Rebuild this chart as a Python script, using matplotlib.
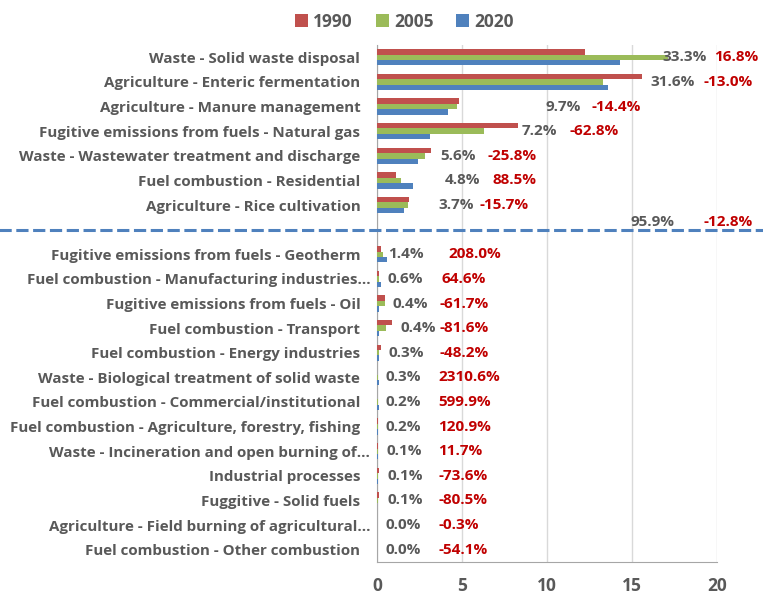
import numpy as np
import matplotlib.pyplot as plt
import matplotlib.transforms as mtransforms

# categorias (de cima para baixo); o espaço vazio entre os dois grupos fica na posição 7
categorias = [
    "Waste - Solid waste disposal",
    "Agriculture - Enteric fermentation",
    "Agriculture - Manure management",
    "Fugitive emissions from fuels - Natural gas",
    "Waste - Wastewater treatment and discharge",
    "Fuel combustion - Residential",
    "Agriculture - Rice cultivation",
    "Fugitive emissions from fuels - Geotherm",
    "Fuel combustion - Manufacturing industries...",
    "Fugitive emissions from fuels - Oil",
    "Fuel combustion - Transport",
    "Fuel combustion - Energy industries",
    "Waste - Biological treatment of solid waste",
    "Fuel combustion - Commercial/institutional",
    "Fuel combustion - Agriculture, forestry, fishing",
    "Waste - Incineration and open burning of...",
    "Industrial processes",
    "Fuggitive - Solid fuels",
    "Agriculture - Field burning of agricultural...",
    "Fuel combustion - Other combustion",
]
v1990 = [12.2, 15.6, 4.8, 8.3, 3.2, 1.1, 1.9,
         0.25, 0.15, 0.5, 0.9, 0.25, 0.01, 0.03, 0.04, 0.04, 0.15, 0.15, 0.02, 0.03]
v2005 = [17.1, 13.3, 4.7, 6.3, 2.8, 1.4, 1.8,
         0.35, 0.1, 0.45, 0.55, 0.15, 0.05, 0.06, 0.06, 0.05, 0.05, 0.05, 0.02, 0.02]
v2020 = [14.3, 13.6, 4.2, 3.1, 2.4, 2.1, 1.6,
         0.6, 0.25, 0.15, 0.15, 0.12, 0.15, 0.1, 0.08, 0.06, 0.04, 0.03, 0.02, 0.01]
share = ["33.3%", "31.6%", "9.7%", "7.2%", "5.6%", "4.8%", "3.7%",
         "1.4%", "0.6%", "0.4%", "0.4%", "0.3%", "0.3%", "0.2%", "0.2%",
         "0.1%", "0.1%", "0.1%", "0.0%", "0.0%"]
variacao = ["16.8%", "-13.0%", "-14.4%", "-62.8%", "-25.8%", "88.5%", "-15.7%",
            "208.0%", "64.6%", "-61.7%", "-81.6%", "-48.2%", "2310.6%", "599.9%", "120.9%",
            "11.7%", "-73.6%", "-80.5%", "-0.3%", "-54.1%"]
total_share = "95.9%"
total_var = "-12.8%"
anos = ["1990", "2005", "2020"]
cores = ["#C0504D", "#9BBB59", "#4F81BD"]

# onde os rótulos ficam (unidades do eixo x), como no gráfico original
x_share = [16.8, 16.1, 9.9, 8.5, 3.7, 4.0, 3.6,
           0.65, 0.6, 0.9, 1.4, 0.7, 0.5, 0.5, 0.5, 0.55, 0.6, 0.6, 0.5, 0.5]
x_var = [19.8, 19.2, 12.6, 11.3, 6.5, 6.8, 6.0,
         4.2, 3.8, 3.7, 3.7, 3.7, 3.6, 3.6, 3.6, 3.6, 3.6, 3.6, 3.6, 3.6]

n_top = 7
y = np.array([i if i < n_top else i + 1 for i in range(len(categorias))], dtype=float)

cinza = "#595959"
fonte = "Open Sans"

fig = plt.figure(figsize=(7.63, 5.97), dpi=100)
ax = fig.add_axes([0.494, 0.0586, 0.446, 0.866])

h = 0.22
for k, (vals, cor, ano) in enumerate(zip([v1990, v2005, v2020], cores, anos)):
    ax.barh(y + (k - 1) * h, vals, height=h, color=cor, label=ano, zorder=3)

for yi, s, v, xs, xv in zip(y, share, variacao, x_share, x_var):
    ax.text(xs, yi, s, color=cinza, fontsize=11, fontweight="bold", family=fonte,
            va="center", ha="left", clip_on=False)
    ax.text(xv, yi, v, color="#C00000", fontsize=11, fontweight="bold", family=fonte,
            va="center", ha="left", clip_on=False)

# linha tracejada separando os principais setores
ax.text(14.9, n_top - 0.3, total_share, color=cinza, fontsize=11, fontweight="bold",
        family=fonte, va="center", ha="left", clip_on=False)
ax.text(19.2, n_top - 0.3, total_var, color="#C00000", fontsize=11, fontweight="bold",
        family=fonte, va="center", ha="left", clip_on=False)
ax.plot([-30, 30], [n_top, n_top], color="#4F81BD", linestyle=(0, (4, 1.5)), lw=2.2,
        clip_on=False, zorder=4)
ax.set_xlim(0, 20)
ax.set_ylim(len(categorias) + 0.5, -0.5)

ax.set_yticks(y)
ax.set_yticklabels(categorias, color=cinza, fontsize=10.9, fontweight="bold", family=fonte)
ax.set_xticks([0, 5, 10, 15, 20])
ax.set_xticklabels(["0", "5", "10", "15", "20"], color=cinza, fontsize=12.5,
                   fontweight="bold", family=fonte)
ax.tick_params(axis="y", length=0, pad=12)
ax.tick_params(axis="x", length=0, pad=11)

# rótulos com reticências passam um pouco da margem, como no Excel
desloc = mtransforms.ScaledTranslation(10 / 100, 0, fig.dpi_scale_trans)
for lab in ax.get_yticklabels():
    if lab.get_text().endswith("..."):
        lab.set_transform(lab.get_transform() + desloc)

ax.grid(axis="x", color="#D9D9D9", lw=1, zorder=0)
for lado in ["top", "right"]:
    ax.spines[lado].set_visible(False)
ax.spines["left"].set_color("#A6A6A6")
ax.spines["bottom"].set_color("#A6A6A6")

leg = fig.legend(loc="upper center", bbox_to_anchor=(0.53, 1.005), ncol=3, frameon=False,
                 handlelength=0.75, handleheight=0.75, handletextpad=0.3, columnspacing=1.3,
                 prop={"family": fonte, "weight": "bold", "size": 12.5})
for t in leg.get_texts():
    t.set_color(cinza)

plt.savefig("out.png", dpi=100)
